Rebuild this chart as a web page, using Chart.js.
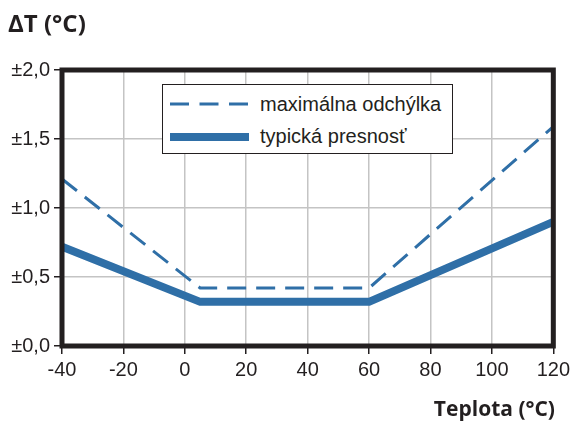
<!DOCTYPE html>
<html>
<head>
<meta charset="utf-8">
<script src="https://cdn.jsdelivr.net/npm/chart.js@4.4.1/dist/chart.umd.min.js"></script>
<style>
  html, body { margin: 0; padding: 0; background: #fff; }
  #wrap { position: relative; width: 574px; height: 421px; color: #231f20; }
  canvas { position: absolute; left: 0; top: 0; }
  .title { position: absolute; font-family: "Open Sans", sans-serif; font-weight: bold; white-space: nowrap; line-height: 1; }
  #ytitle { left: 8px; top: 11px; font-size: 24px; }
  #xtitle { right: 19px; top: 398px; font-size: 21px; }
  #legend { position: absolute; left: 162px; top: 84px; width: 291px; height: 70px; box-sizing: border-box; background: #fff; border: 1px solid #231f20; }
  .txt { position: absolute; font-family: "Liberation Sans", Arial, sans-serif; font-size: 20px; line-height: 1; white-space: nowrap; }
  svg.sample { position: absolute; }
</style>
</head>
<body>
<div id="wrap">
  <canvas id="c" width="574" height="421"></canvas>
  <div class="title" id="ytitle">ΔT (°C)</div>
  <div class="title" id="xtitle">Teplota (°C)</div>
  <div id="legend"></div>
  <svg class="sample" style="left:170px;top:100px" width="79" height="8"><line x1="0" y1="4" x2="79" y2="4" stroke="#2f6fa7" stroke-width="3" stroke-dasharray="19,10.5"/></svg>
  <div class="txt" id="leg0" style="left:260px;top:94px"></div>
  <svg class="sample" style="left:170px;top:132px" width="79" height="10"><line x1="0" y1="5" x2="79" y2="5" stroke="#2f6fa7" stroke-width="8"/></svg>
  <div class="txt" id="leg1" style="left:260px;top:126px"></div>
</div>
<script>
const maxTemps = [-40, 5, 60, 120];
const maxValues = [1.21, 0.42, 0.42, 1.59];
const typTemps = [-40, 5, 60, 120];
const typValues = [0.72, 0.32, 0.32, 0.90];
const xTicks = [-40, -20, 0, 20, 40, 60, 80, 100, 120];
const yTicks = [0, 0.5, 1.0, 1.5, 2.0];
const seriesNames = ['maximálna odchýlka', 'typická presnosť'];

document.getElementById('leg0').textContent = seriesNames[0];
document.getElementById('leg1').textContent = seriesNames[1];

const BLUE = '#2f6fa7';
const DARK = '#231f20';
const GRID = '#c4c4c4';
const TICKFONT = { family: 'Liberation Sans', size: 20 };

const frame = {
  id: 'frame',
  afterDatasetsDraw(chart) {
    const a = chart.chartArea, ctx = chart.ctx;
    ctx.save();
    ctx.strokeStyle = DARK;
    ctx.lineWidth = 5;
    ctx.strokeRect(a.left, a.top, a.right - a.left, a.bottom - a.top);
    ctx.restore();
  }
};

new Chart(document.getElementById('c'), {
  type: 'line',
  data: {
    datasets: [
      {
        label: seriesNames[0],
        data: maxTemps.map((t, i) => ({ x: t, y: maxValues[i] })),
        borderColor: BLUE, borderWidth: 3, borderDash: [19, 10],
        pointRadius: 0, fill: false, tension: 0
      },
      {
        label: seriesNames[1],
        data: typTemps.map((t, i) => ({ x: t, y: typValues[i] })),
        borderColor: BLUE, borderWidth: 8,
        pointRadius: 0, fill: false, tension: 0
      }
    ]
  },
  options: {
    responsive: false,
    animation: false,
    devicePixelRatio: 1,
    layout: { padding: { top: 70, right: 20, left: 0, bottom: 0 } },
    plugins: { legend: { display: false }, tooltip: { enabled: false } },
    scales: {
      x: {
        type: 'linear', min: -40, max: 120,
        afterBuildTicks: s => { s.ticks = xTicks.map(v => ({ value: v })); },
        afterFit: s => { s.height = 75; },
        grid: { color: GRID, lineWidth: 1.5, tickColor: DARK, tickLength: 8, tickWidth: 1.5 },
        border: { display: false },
        ticks: { color: DARK, font: TICKFONT, padding: 4, maxRotation: 0 }
      },
      y: {
        type: 'linear', min: 0, max: 2,
        afterBuildTicks: s => { s.ticks = yTicks.map(v => ({ value: v })); },
        afterFit: s => { s.width = 62; },
        grid: { color: GRID, lineWidth: 1.5, tickColor: DARK, tickLength: 8, tickWidth: 1.5 },
        border: { display: false },
        ticks: {
          color: DARK, font: TICKFONT, padding: 4,
          callback: v => '±' + Number(v).toFixed(1).replace('.', ',')
        }
      }
    }
  },
  plugins: [frame]
});
</script>
</body>
</html>
